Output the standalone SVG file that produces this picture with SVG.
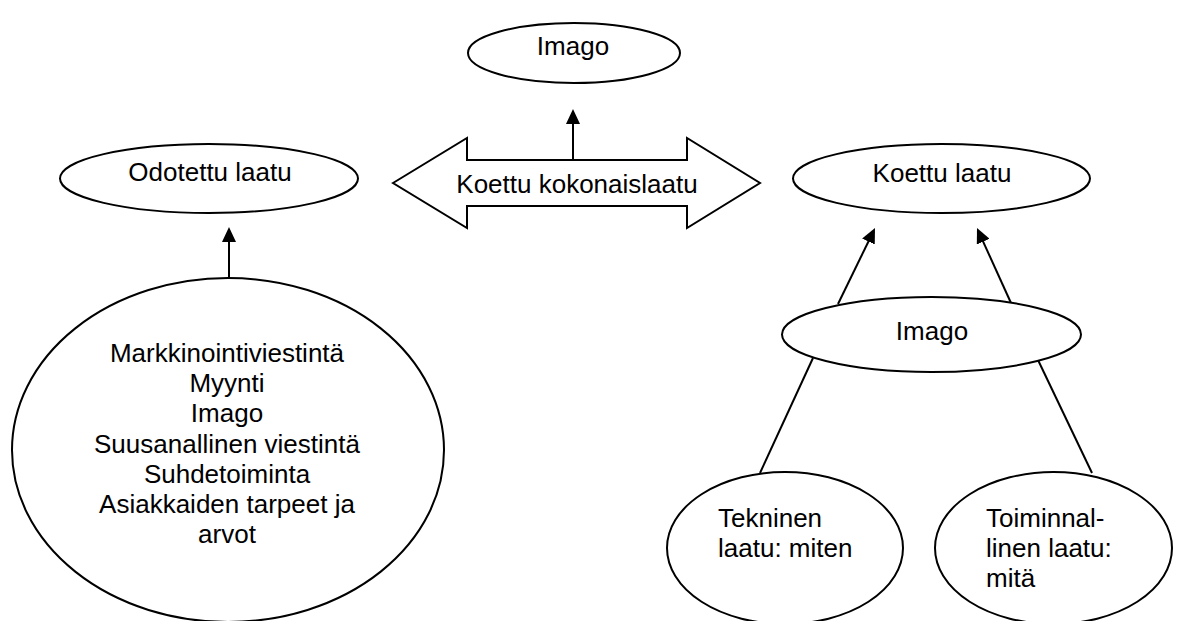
<svg xmlns="http://www.w3.org/2000/svg" width="1178" height="621" viewBox="0 0 1178 621">
<style>
.shape{fill:#fff;stroke:#000;stroke-width:2}
.t{font-family:"Liberation Sans",Arial,sans-serif;font-size:26px;fill:#000}
.c{text-anchor:middle}
.conn{stroke:#000;stroke-width:2;fill:none}
</style>
<defs>
<marker id="ah" markerUnits="userSpaceOnUse" viewBox="0 0 15 14" markerWidth="15" markerHeight="14" refX="7" refY="7" orient="auto">
<path d="M0,0 L15,7 L0,14 Z" fill="#000"/>
</marker>
</defs>
<rect width="1178" height="621" fill="#fff"/>
<g id="connectors">
<line class="conn" x1="573" y1="159" x2="573" y2="117" marker-end="url(#ah)"/>
<line class="conn" x1="229" y1="278" x2="229" y2="235" marker-end="url(#ah)"/>
<line class="conn" x1="838" y1="304" x2="871.5" y2="235.2" marker-end="url(#ah)"/>
<line class="conn" x1="1011" y1="303" x2="980.3" y2="235.3" marker-end="url(#ah)"/>
<line class="conn" x1="813" y1="358" x2="760" y2="473"/>
<line class="conn" x1="1038" y1="360" x2="1092" y2="473"/>
</g>
<g id="imago-top">
<ellipse class="shape" cx="574" cy="53" rx="106" ry="30"/>
<text class="t c" x="573" y="55">Imago</text>
</g>
<g id="kokonaislaatu">
<polygon class="shape" points="393,183 467,138 467,160 687,160 687,138 760,183 687,228 687,206 467,206 467,228"/>
<text class="t c" x="577" y="193">Koettu kokonaislaatu</text>
</g>
<g id="odotettu">
<ellipse class="shape" cx="209" cy="178.5" rx="149" ry="34.5"/>
<text class="t c" x="210" y="181">Odotettu laatu</text>
</g>
<g id="koettu">
<ellipse class="shape" cx="941.5" cy="178.5" rx="148.5" ry="34.5"/>
<text class="t c" x="942" y="182">Koettu laatu</text>
</g>
<g id="tekijat">
<ellipse class="shape" cx="228" cy="450" rx="216" ry="172"/>
<text class="t c" x="227" y="362">Markkinointiviestintä</text>
<text class="t c" x="227" y="392">Myynti</text>
<text class="t c" x="227" y="422">Imago</text>
<text class="t c" x="227" y="453">Suusanallinen viestintä</text>
<text class="t c" x="227" y="483">Suhdetoiminta</text>
<text class="t c" x="227" y="513">Asiakkaiden tarpeet ja</text>
<text class="t c" x="227" y="543">arvot</text>
</g>
<g id="imago-mid">
<ellipse class="shape" cx="931.5" cy="334.5" rx="149.5" ry="37.5"/>
<text class="t c" x="932" y="340">Imago</text>
</g>
<g id="tekninen">
<ellipse class="shape" cx="785" cy="548" rx="118" ry="76"/>
<text class="t" x="718" y="527">Tekninen</text>
<text class="t" x="718" y="557">laatu: miten</text>
</g>
<g id="toiminnallinen">
<ellipse class="shape" cx="1053.5" cy="548" rx="118.5" ry="76"/>
<text class="t" x="986" y="527">Toiminnal-</text>
<text class="t" x="986" y="557">linen laatu:</text>
<text class="t" x="986" y="587">mitä</text>
</g>
</svg>
